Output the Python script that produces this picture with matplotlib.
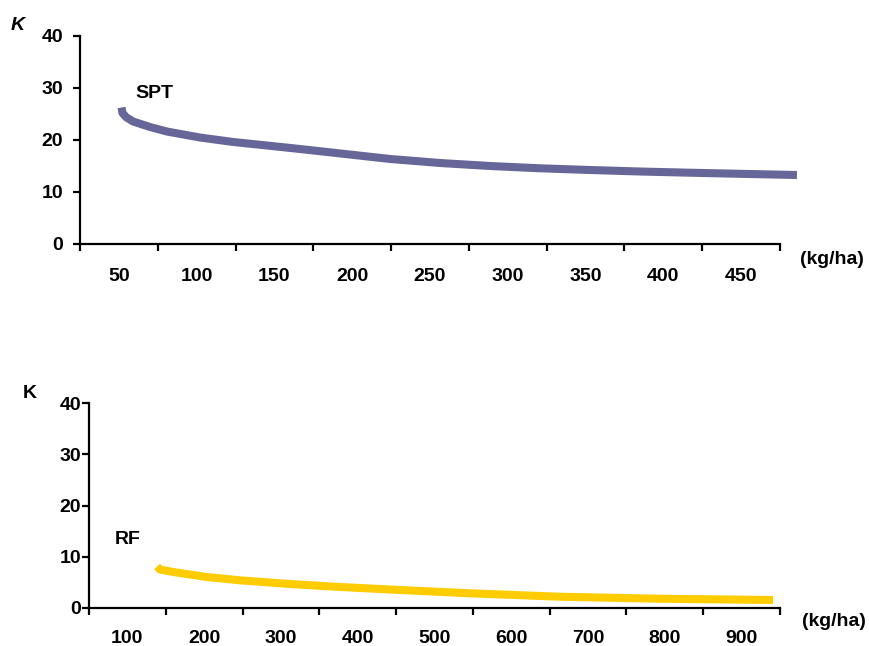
import matplotlib
matplotlib.use("Agg")
import matplotlib.pyplot as plt
from matplotlib.ticker import FixedLocator, NullFormatter, FixedFormatter

plt.rcParams['font.family'] = ['Liberation Sans', 'DejaVu Sans']
plt.rcParams['font.weight'] = 'bold'

# SPT curve: K against application rate (kg/ha)
spt_n = [51.7, 52.3, 54.6, 59.1, 70.0, 80.9, 102.1, 123.4, 145.2, 166.4, 195.4, 224.3,
         256.4, 288.6, 320.7, 352.9, 385.0, 417.1, 449.3, 485.9]
spt_k = [26.25, 25.2, 24.4, 23.56, 22.5, 21.63, 20.48, 19.62, 18.94, 18.27, 17.31, 16.35,
         15.58, 15.0, 14.56, 14.23, 13.94, 13.71, 13.5, 13.27]
spt_ticks = [50, 100, 150, 200, 250, 300, 350, 400, 450]

# RF curve: K against application rate (kg/ha)
rf_n = [138.6, 142.5, 159.8, 203.3, 246.7, 311.8, 376.9, 463.8, 546.2, 663.4, 793.7, 940.9]
rf_k = [8.1, 7.51, 7.02, 6.05, 5.4, 4.68, 4.1, 3.45, 2.87, 2.2, 1.81, 1.56]
rf_ticks = [100, 200, 300, 400, 500, 600, 700, 800, 900]

y_ticks = [0, 10, 20, 30, 40]

W, H = 870, 646
FS = 14
fig = plt.figure(figsize=(W / 100, H / 100), dpi=100)


def px_axes(left, right, top, bottom):
    return fig.add_axes([left / W, 1 - bottom / H, (right - left) / W, (bottom - top) / H])


def style_axes(ax, centers, step, ylab_pad, xlab_pad):
    ax.set_ylim(0, 40)
    ax.set_xlim(centers[0] - step / 2, centers[-1] + step / 2)
    for s in ('top', 'right'):
        ax.spines[s].set_visible(False)
    for s in ('left', 'bottom'):
        ax.spines[s].set_linewidth(1.6)
    bounds = [c - step / 2 for c in centers] + [centers[-1] + step / 2]
    ax.xaxis.set_major_locator(FixedLocator(bounds))
    ax.xaxis.set_major_formatter(NullFormatter())
    ax.xaxis.set_minor_locator(FixedLocator(centers))
    ax.xaxis.set_minor_formatter(FixedFormatter([str(c) for c in centers]))
    ax.tick_params(axis='x', which='major', direction='out', length=5, width=1.6)
    ax.tick_params(axis='x', which='minor', length=0, pad=xlab_pad, labelsize=FS)
    ax.set_yticks(y_ticks)
    ax.set_yticklabels([str(v) for v in y_ticks])
    ax.tick_params(axis='y', which='major', direction='out', length=5, width=1.6,
                   pad=ylab_pad, labelsize=FS)
    for lab in ax.get_xticklabels(minor=True) + ax.get_yticklabels():
        lab.set_fontweight('bold')


# upper panel
ax1 = px_axes(80, 780, 36, 244)
style_axes(ax1, spt_ticks, 50, 7, 17)
ax1.plot(spt_n, spt_k, color='#666699', lw=5.8, solid_capstyle='butt',
         solid_joinstyle='round', clip_on=False)
ax1.text(73, 29, 'SPT', fontsize=FS, fontweight='bold', ha='center', va='center')

# lower panel
ax2 = px_axes(89, 780, 403, 608)
style_axes(ax2, rf_ticks, 100, 0.5, 16)
ax2.plot(rf_n, rf_k, color='#FFCC00', lw=5.8, solid_capstyle='butt',
         solid_joinstyle='round', clip_on=False)
ax2.text(100, 13.3, 'RF', fontsize=FS, fontweight='bold', ha='center', va='center')

# axis captions
fig.text(18 / W, 1 - 25 / H, 'K', fontsize=FS, fontweight='bold', fontstyle='italic',
         ha='center', va='center')
fig.text(30 / W, 1 - 394 / H, 'K', fontsize=FS, fontweight='bold', ha='center', va='center')
fig.text(832 / W, 1 - 260 / H, '(kg/ha)', fontsize=FS, fontweight='bold', ha='center', va='center')
fig.text(834 / W, 1 - 622 / H, '(kg/ha)', fontsize=FS, fontweight='bold', ha='center', va='center')

fig.savefig('out.png', dpi=100)
